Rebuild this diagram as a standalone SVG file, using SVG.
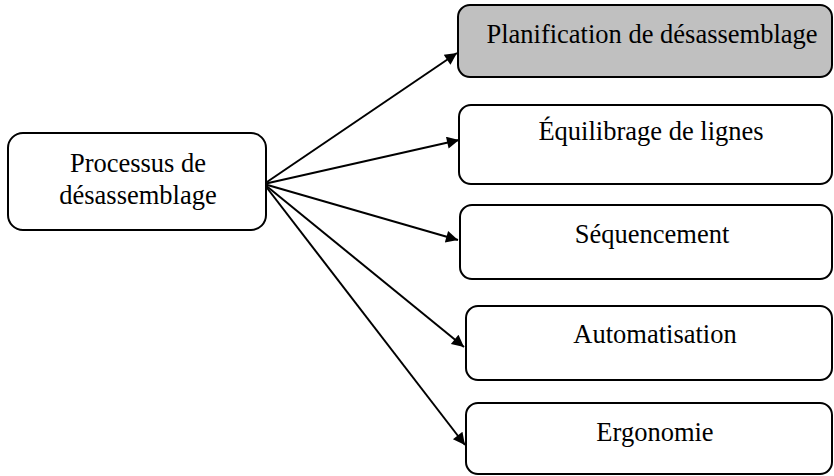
<svg xmlns="http://www.w3.org/2000/svg" width="834" height="476" viewBox="0 0 834 476">
<style>
.box{fill:#fff;stroke:#000;stroke-width:2}
.grey{fill:#c0c0c0}
.c{stroke:#000;stroke-width:2;fill:none;marker-end:url(#ah)}
</style>
<defs>
<marker id="ah" viewBox="0 0 10 10" refX="10" refY="5" markerWidth="8" markerHeight="6" markerUnits="strokeWidth" orient="auto">
<path d="M0,0 L10,5 L0,10 z" fill="#000"/>
</marker>
</defs>
<g id="connectors">
<line class="c" x1="264" y1="184" x2="457" y2="53"/>
<line class="c" x1="264" y1="184" x2="459" y2="140"/>
<line class="c" x1="264" y1="184" x2="458" y2="240"/>
<line class="c" x1="264" y1="184" x2="464" y2="347"/>
<line class="c" x1="264" y1="184" x2="465" y2="445"/>
</g>
<g font-family="Liberation Serif, Times New Roman, serif" font-size="26.5" fill="#000" text-anchor="middle">
<g id="n0">
<rect class="box" x="8" y="133" width="258" height="97" rx="15"/>
<text x="138" y="172">Processus de</text>
<text x="138" y="204">désassemblage</text>
</g>
<g id="n1">
<rect class="box grey" x="458" y="5" width="374" height="72" rx="12"/>
<text x="652" y="43">Planification de désassemblage</text>
</g>
<g id="n2">
<rect class="box" x="459" y="105" width="373" height="79" rx="12"/>
<text x="651" y="140">Équilibrage de lignes</text>
</g>
<g id="n3">
<rect class="box" x="460" y="205" width="372" height="74" rx="12"/>
<text x="652" y="243">Séquencement</text>
</g>
<g id="n4">
<rect class="box" x="466" y="306" width="366" height="74" rx="12"/>
<text x="655" y="343">Automatisation</text>
</g>
<g id="n5">
<rect class="box" x="466" y="403" width="366" height="71" rx="12"/>
<text x="655" y="441">Ergonomie</text>
</g>
</g>
</svg>
